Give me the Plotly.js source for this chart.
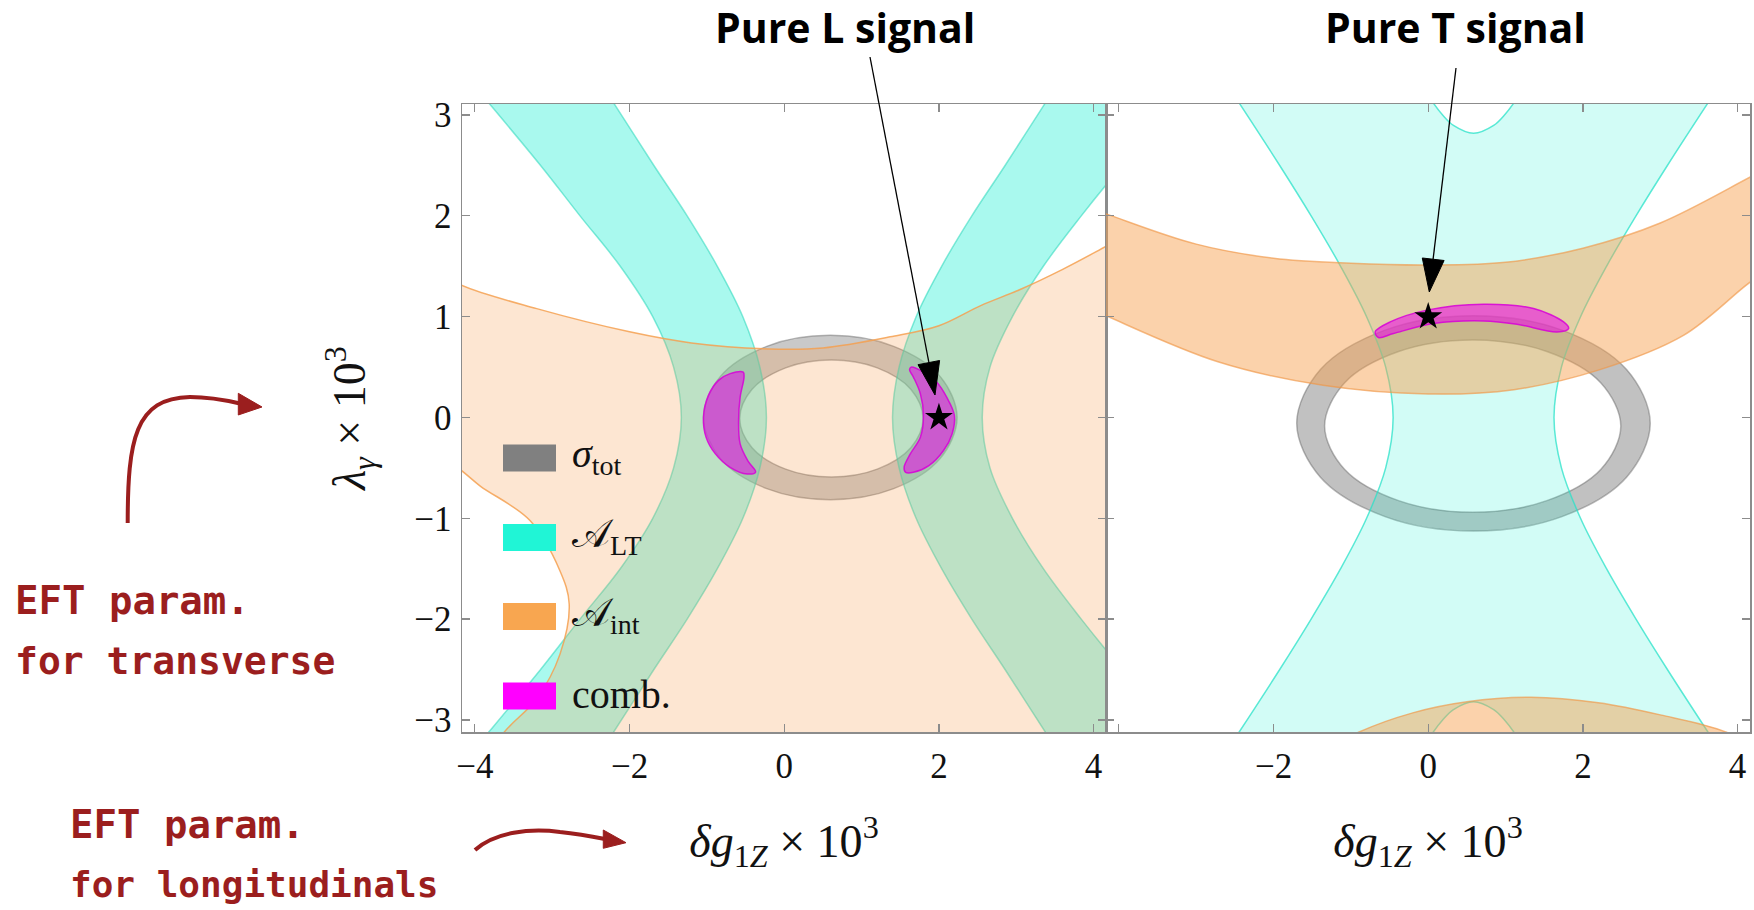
<!DOCTYPE html>
<html><head><meta charset="utf-8">
<script src="https://cdn.plot.ly/plotly-3.0.1.min.js"></script>
<style>html,body{margin:0;padding:0;background:#fff;} #chart{width:1754px;height:910px;}</style>
</head><body><div id="chart"></div>
<script>
// ---------------- values ----------------
const xTicks = [-4, -2, 0, 2, 4];
const xTickTextLeft = ['−4', '−2', '0', '2', '4'];
const xTickTextRight = ['', '−2', '0', '2', '4'];
const yTicks = [-3, -2, -1, 0, 1, 2, 3];
const yTickText = ['−3', '−2', '−1', '0', '1', '2', '3'];
const panelTitles = ['Pure L signal', 'Pure T signal'];
const xTitle = '<i>δg</i><sub>1<i>Z</i></sub> × 10<sup>3</sup>';
const yTitle = '<i>λ</i><sub><i>γ</i></sub> × 10<sup>3</sup>';
const legendLabels = ['<i>σ</i><sub>tot</sub>', '𝒜<sub>LT</sub>', '𝒜<sub>int</sub>', 'comb.'];
const noteTransverse = ['EFT param.', 'for transverse'];
const noteLongitudinal = ['EFT param.', 'for longitudinals'];

// Left panel (longitudinal) : sigma_tot ring (outer, gap, inner)
const L_sigmaX = [2.235, 2.015, 1.415, 0.595, -0.225, -0.825, -1.045, -0.825, -0.225, 0.595, 1.415, 2.015, 2.235, null,
                  1.795, 1.636, 1.203, 0.61, 0.018, -0.416, -0.575, -0.416, 0.018, 0.61, 1.203, 1.636, 1.795];
const L_sigmaY = [0, 0.408, 0.706, 0.815, 0.706, 0.408, 0, -0.408, -0.706, -0.815, -0.706, -0.408, 0, null,
                  -0.01, -0.30, -0.512, -0.59, -0.512, -0.30, -0.01, 0.28, 0.492, 0.57, 0.492, 0.28, -0.01];
// A_LT bands
const L_ltX = [-4.35, -3.82, -3.15, -2.64, -2.12, -1.70, -1.43, -1.33, -1.43, -1.70, -2.12, -2.64, -3.15, -3.82, -4.35,
               -2.615, -2.205, -1.685, -1.255, -0.865, -0.535, -0.315, -0.23, -0.315, -0.535, -0.865, -1.255, -1.685, -2.205, -2.615, null,
               3.785, 3.375, 2.855, 2.425, 2.035, 1.705, 1.485, 1.40, 1.485, 1.705, 2.035, 2.425, 2.855, 3.375, 3.785,
               5.6, 5.07, 4.37, 3.84, 3.35, 2.95, 2.66, 2.56, 2.66, 2.95, 3.35, 3.84, 4.37, 5.07, 5.6];
const L_ltY = [-3.6, -3.12, -2.5, -2, -1.5, -1, -0.5, 0, 0.5, 1, 1.5, 2, 2.5, 3.12, 3.6,
               3.6, 3.12, 2.5, 2, 1.5, 1, 0.5, 0, -0.5, -1, -1.5, -2, -2.5, -3.12, -3.6, null,
               -3.6, -3.12, -2.5, -2, -1.5, -1, -0.5, 0, 0.5, 1, 1.5, 2, 2.5, 3.12, 3.6,
               3.6, 3.12, 2.5, 2, 1.5, 1, 0.5, 0, -0.5, -1, -1.5, -2, -2.5, -3.12, -3.6];
// A_int region
const L_intX = [-4.6, -4.166, -3.2, -2.0, -1.2, -0.2, 0.5, 1.37, 2.0, 2.54, 3.05, 3.6, 4.166, 4.6,
                4.7, -4.1, -3.63, -3.20, -2.90, -2.78, -2.90, -3.29, -3.93, -4.166, -4.6];
const L_intY = [1.50, 1.31, 1.08, 0.85, 0.74, 0.68, 0.69, 0.80, 0.91, 1.11, 1.27, 1.47, 1.70, 1.88,
                -3.7, -3.7, -3.13, -2.79, -2.35, -1.85, -1.52, -1.02, -0.68, -0.53, -0.28];
// combined region (two crescents)
const L_combX = [-0.53, -0.70, -0.85, -0.98, -1.044, -1.01, -0.89, -0.70, -0.48, -0.37, -0.47, -0.57, -0.59, -0.57, -0.52, -0.53, null,
                 1.64, 1.80, 1.97, 2.10, 2.20, 2.17, 2.06, 1.87, 1.67, 1.57, 1.55, 1.63, 1.76, 1.80, 1.76, 1.67, 1.62, 1.64];
const L_combY = [0.45, 0.435, 0.368, 0.219, 0.003, -0.196, -0.361, -0.494, -0.56, -0.54, -0.43, -0.262, -0.03, 0.202, 0.40, 0.45, null,
                 0.50, 0.451, 0.352, 0.202, 0.02, -0.163, -0.328, -0.478, -0.544, -0.544, -0.494, -0.361, -0.196, 0.02, 0.236, 0.401, 0.474, 0.50];
const L_starX = [2], L_starY = [0];

// Right panel (transverse)
const R_sigmaX = [2.870, 2.564, 1.728, 0.585, -0.558, -1.394, -1.700, -1.394, -0.558, 0.585, 1.728, 2.564, 2.870, null,
                  2.490, 2.233, 1.533, 0.575, -0.383, -1.083, -1.340, -1.083, -0.383, 0.575, 1.533, 2.233, 2.490];
const R_sigmaY = [-0.058, 0.476, 0.867, 1.010, 0.867, 0.476, -0.058, -0.592, -0.983, -1.126, -0.983, -0.592, -0.058, null,
                  -0.085, -0.513, -0.825, -0.940, -0.825, -0.513, -0.085, 0.343, 0.655, 0.770, 0.655, 0.343, -0.085];
const R_ltX = [-2.858, -2.444, -1.92, -1.514, -1.133, -0.797, -0.55, -0.454, -0.55, -0.797, -1.133, -1.514, -1.92, -2.444, -2.858,
               -0.286, -0.114, 0.066, 0.186, 0.326, 0.586, 0.846, 0.986, 1.106, 1.286, 1.458,
               4.03, 3.616, 3.092, 2.686, 2.305, 1.969, 1.722, 1.626, 1.722, 1.969, 2.305, 2.686, 3.092, 3.616, 4.03,
               1.458, 1.286, 1.106, 0.986, 0.846, 0.586, 0.326, 0.186, 0.066, -0.114, -0.286];
const R_ltY = [3.6, 3.12, 2.5, 2, 1.5, 1, 0.5, 0, -0.5, -1, -1.5, -2, -2.5, -3.12, -3.6,
               -3.6, -3.344, -3.12, -3.001, -2.898, -2.82, -2.898, -3.001, -3.12, -3.344, -3.6,
               -3.6, -3.12, -2.5, -2, -1.5, -1, -0.5, 0, 0.5, 1, 1.5, 2, 2.5, 3.12, 3.6,
               3.6, 3.344, 3.12, 3.001, 2.898, 2.82, 2.898, 3.001, 3.12, 3.344, 3.6];
const R_intX = [-4.6, -4.164, -3.0, -2.0, -1.0, 0.0, 1.0, 2.0, 3.0, 4.175, 4.6,
                4.6, 4.175, 3.3, 2.2, 1.107, 0.0, -1.36, -2.73, -4.164, -4.6, null,
                -1.6, -0.893, -0.2, 0.5, 1.33, 2.2, 3.0, 3.847, 4.5, 4.5, -1.6];
const R_intY = [2.14, 2.02, 1.72, 1.58, 1.53, 1.513, 1.54, 1.68, 1.93, 2.39, 2.56,
                1.56, 1.35, 0.815, 0.47, 0.276, 0.233, 0.319, 0.556, 1.009, 1.16, null,
                -3.42, -3.12, -2.93, -2.82, -2.776, -2.83, -2.95, -3.12, -3.40, -3.9, -3.9];
const R_combX = [-0.686, -0.492, -0.017, 0.716, 1.362, 1.75, 1.815, 1.665, 1.148, 0.716, 0.069, -0.449, -0.643, -0.686];
const R_combY = [0.849, 0.948, 1.065, 1.124, 1.081, 0.948, 0.883, 0.849, 0.925, 0.958, 0.932, 0.833, 0.793, 0.849];
const R_starX = [0], R_starY = [1];

// ---------------- styling ----------------
const W = 1754, H = 910, ML = 462, MR = 4, MT = 104, MB = 178;
const PW = W - ML - MR, PH = H - MT - MB;
const px = x => (x - ML) / PW;
const py = y => (H - MB - y) / PH;
const pt = (x, y) => px(x).toFixed(5) + ',' + py(y).toFixed(5);

const C = {gray: '#808080', cyan: '#20f5d6', orange: '#f8a650', magenta: '#ff00ff', red: '#9b1e1e'};

function region(x, y, xa, ya, fill, line, lw) {
  return {type: 'scatter', mode: 'lines', x: x, y: y, xaxis: xa, yaxis: ya,
    fill: 'toself', fillcolor: fill, line: {color: line, width: lw, shape: 'spline', smoothing: 1},
    hoverinfo: 'skip', showlegend: false};
}
function star(x, y, xa, ya) {
  return {type: 'scatter', mode: 'markers', x: x, y: y, xaxis: xa, yaxis: ya,
    marker: {symbol: 'star', size: 21, color: '#000'}, hoverinfo: 'skip', showlegend: false};
}

const data = [
  region(L_sigmaX, L_sigmaY, 'x', 'y', 'rgba(120,120,120,0.40)', 'rgba(100,100,100,0.45)', 1.5),
  region(L_ltX, L_ltY, 'x', 'y', 'rgba(30,240,210,0.38)', 'rgba(40,215,185,0.55)', 1.5),
  region(L_intX, L_intY, 'x', 'y', 'rgba(246,160,80,0.26)', 'rgba(244,160,80,0.85)', 1.5),
  region(L_combX, L_combY, 'x', 'y', 'rgba(235,0,235,0.55)', 'rgba(215,0,215,0.85)', 1.5),
  star(L_starX, L_starY, 'x', 'y'),
  region(R_sigmaX, R_sigmaY, 'x2', 'y2', 'rgba(120,120,120,0.46)', 'rgba(100,100,100,0.45)', 1.5),
  region(R_ltX, R_ltY, 'x2', 'y2', 'rgba(30,240,210,0.20)', 'rgba(40,225,200,0.75)', 1.5),
  region(R_intX, R_intY, 'x2', 'y2', 'rgba(246,160,80,0.48)', 'rgba(240,150,70,0.65)', 1.5),
  region(R_combX, R_combY, 'x2', 'y2', 'rgba(235,0,235,0.55)', 'rgba(215,0,215,0.85)', 1.5),
  star(R_starX, R_starY, 'x2', 'y2')
];

const serif = 'Liberation Serif';
function axis(extra) {
  return Object.assign({
    showline: true, linecolor: '#8c8c8c', linewidth: 1.5, mirror: 'ticks',
    ticks: 'inside', ticklen: 8, tickwidth: 1.2, tickcolor: '#8c8c8c',
    showgrid: false, zeroline: false, fixedrange: true, tickmode: 'array',
    tickfont: {family: serif, size: 35, color: '#111'}, ticklabelstandoff: 2
  }, extra);
}
const titleFont = () => ({family: serif, size: 46, color: '#111'});

const shapes = [];
const annotations = [];

// legend swatches + labels
const legendColors = [C.gray, C.cyan, C.orange, C.magenta];
const legendRowY = [458, 537.5, 616.5, 696];
legendLabels.forEach((lab, i) => {
  shapes.push({type: 'rect', xref: 'paper', yref: 'paper', x0: px(503), x1: px(556),
    y0: py(legendRowY[i] - 13.5), y1: py(legendRowY[i] + 13.5), fillcolor: legendColors[i], line: {width: 0}});
  annotations.push({text: lab, xref: 'paper', yref: 'paper', x: px(570), y: py(legendRowY[i] - 2),
    xanchor: 'left', yanchor: 'middle', showarrow: false, font: {family: serif, size: 40, color: '#111'}});
});

// panel titles with arrows
annotations.push({text: '<b>' + panelTitles[0] + '</b>', xref: 'paper', yref: 'paper', x: px(845), y: py(27),
  xanchor: 'center', yanchor: 'middle', showarrow: false, font: {family: 'Open Sans', size: 41, color: '#000'}});
annotations.push({text: '<b>' + panelTitles[1] + '</b>', xref: 'paper', yref: 'paper', x: px(1455), y: py(27),
  xanchor: 'center', yanchor: 'middle', showarrow: false, font: {family: 'Open Sans', size: 41, color: '#000'}});
shapes.push({type: 'path', xref: 'paper', yref: 'paper', path: 'M' + pt(870, 57) + 'L' + pt(929, 363), line: {color: '#000', width: 1.3}});
shapes.push({type: 'path', xref: 'paper', yref: 'paper', path: 'M' + pt(935, 395) + 'L' + pt(918, 364.7) + 'L' + pt(939.6, 360.5) + 'Z', fillcolor: '#000', line: {color: '#000', width: 1}});
shapes.push({type: 'path', xref: 'paper', yref: 'paper', path: 'M' + pt(1456, 68) + 'L' + pt(1433, 260), line: {color: '#000', width: 1.3}});
shapes.push({type: 'path', xref: 'paper', yref: 'paper', path: 'M' + pt(1429.3, 292) + 'L' + pt(1422.3, 258) + 'L' + pt(1444.1, 260.5) + 'Z', fillcolor: '#000', line: {color: '#000', width: 1}});

// handwritten notes with curved arrows
const handFont = (s) => ({family: 'DejaVu Sans Mono', size: s, color: C.red, weight: 'bold'});
annotations.push({text: noteTransverse[0], xref: 'paper', yref: 'paper', x: px(13), y: py(600), xanchor: 'left', yanchor: 'middle', showarrow: false, font: handFont(39)});
annotations.push({text: noteTransverse[1], xref: 'paper', yref: 'paper', x: px(13), y: py(661), xanchor: 'left', yanchor: 'middle', showarrow: false, font: handFont(38)});
annotations.push({text: noteLongitudinal[0], xref: 'paper', yref: 'paper', x: px(68), y: py(824), xanchor: 'left', yanchor: 'middle', showarrow: false, font: handFont(39)});
annotations.push({text: noteLongitudinal[1], xref: 'paper', yref: 'paper', x: px(68), y: py(884), xanchor: 'left', yanchor: 'middle', showarrow: false, font: handFont(36)});
shapes.push({type: 'path', xref: 'paper', yref: 'paper',
  path: 'M' + pt(127.7, 523) + 'C' + pt(127.7, 440) + ' ' + pt(135, 398) + ' ' + pt(190, 397) + 'C' + pt(210, 397) + ' ' + pt(225, 400) + ' ' + pt(240, 403.5),
  line: {color: C.red, width: 4}});
shapes.push({type: 'path', xref: 'paper', yref: 'paper', path: 'M' + pt(262, 407) + 'L' + pt(238.3, 393.3) + 'L' + pt(238.3, 415) + 'Z', fillcolor: C.red, line: {color: C.red, width: 1}});
shapes.push({type: 'path', xref: 'paper', yref: 'paper',
  path: 'M' + pt(475, 850) + 'C' + pt(495, 832) + ' ' + pt(530, 828) + ' ' + pt(560, 832) + 'C' + pt(580, 834) + ' ' + pt(595, 837) + ' ' + pt(605, 839),
  line: {color: C.red, width: 4}});
shapes.push({type: 'path', xref: 'paper', yref: 'paper', path: 'M' + pt(626, 842.7) + 'L' + pt(603.3, 830) + 'L' + pt(603.3, 848.3) + 'Z', fillcolor: C.red, line: {color: C.red, width: 1}});

const layout = {
  width: W, height: H,
  font: {family: serif, size: 35, color: '#111'},
  margin: {l: ML, r: MR, t: MT, b: MB, pad: 0},
  paper_bgcolor: '#fff', plot_bgcolor: '#fff', showlegend: false,
  xaxis: axis({domain: [0, 0.5], range: [-4.166, 4.16], tickvals: xTicks, ticktext: xTickTextLeft, anchor: 'y',
    title: {text: xTitle, font: titleFont(), standoff: 40}}),
  yaxis: axis({domain: [0, 1], range: [-3.12, 3.11], tickvals: yTicks, ticktext: yTickText, anchor: 'x',
    title: {text: yTitle, font: titleFont(), standoff: 34}}),
  xaxis2: axis({domain: [0.5, 1], range: [-4.166, 4.16], tickvals: xTicks, ticktext: xTickTextRight, anchor: 'y2',
    title: {text: xTitle, font: titleFont(), standoff: 40}}),
  yaxis2: axis({domain: [0, 1], range: [-3.12, 3.11], tickvals: yTicks, anchor: 'x2', showticklabels: false}),
  shapes: shapes, annotations: annotations
};

Plotly.newPlot('chart', data, layout, {displayModeBar: false, staticPlot: true});
</script></body></html>
